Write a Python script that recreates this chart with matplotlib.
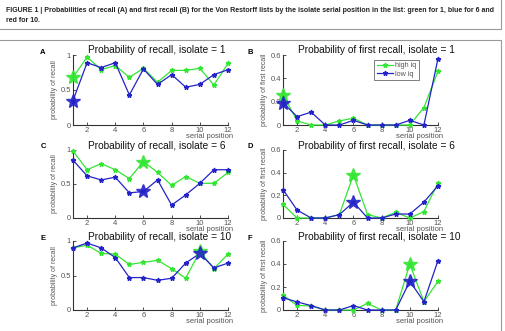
import numpy as np
import matplotlib
matplotlib.use("Agg")
import matplotlib.pyplot as plt
from matplotlib.patches import Rectangle

plt.rcParams['font.family'] = ['Liberation Sans', 'DejaVu Sans']

# ── data ──────────────────────────────────────────────────────────────────────
serial = np.arange(1, 13)

recall_hi_1 = [0.68, 0.97, 0.79, 0.85, 0.68, 0.81, 0.61, 0.78, 0.78, 0.81, 0.57, 0.88]
recall_lo_1 = [0.35, 0.89, 0.82, 0.89, 0.43, 0.80, 0.58, 0.72, 0.54, 0.58, 0.72, 0.79]
first_hi_1 = [0.26, 0.035, 0.0, 0.0, 0.035, 0.058, 0.0, 0.0, 0.0, 0.0, 0.15, 0.46]
first_lo_1 = [0.19, 0.072, 0.11, 0.0, 0.0, 0.04, 0.0, 0.0, 0.0, 0.04, 0.0, 0.57]

recall_hi_6 = [0.985, 0.71, 0.80, 0.71, 0.58, 0.83, 0.67, 0.48, 0.61, 0.51, 0.51, 0.67]
recall_lo_6 = [0.85, 0.62, 0.56, 0.60, 0.37, 0.39, 0.56, 0.19, 0.34, 0.51, 0.71, 0.71]
first_hi_6 = [0.12, 0.0, 0.0, 0.0, 0.03, 0.38, 0.03, 0.0, 0.05, 0.0, 0.056, 0.31]
first_lo_6 = [0.25, 0.07, 0.0, 0.0, 0.03, 0.14, 0.0, 0.0, 0.035, 0.035, 0.14, 0.285]

recall_hi_10 = [0.90, 0.94, 0.82, 0.81, 0.66, 0.69, 0.72, 0.60, 0.46, 0.85, 0.60, 0.81]
recall_lo_10 = [0.90, 0.97, 0.90, 0.76, 0.47, 0.47, 0.43, 0.46, 0.68, 0.82, 0.61, 0.68]
first_hi_10 = [0.128, 0.04, 0.035, 0.0, 0.0, 0.0, 0.058, 0.0, 0.0, 0.40, 0.072, 0.25]
first_lo_10 = [0.107, 0.07, 0.038, 0.0, 0.0, 0.038, 0.0, 0.0, 0.0, 0.25, 0.072, 0.43]

isolates = [1, 6, 10]
panel_letters = [("A", "B"), ("C", "D"), ("E", "F")]
recall_sets = [(recall_hi_1, recall_lo_1), (recall_hi_6, recall_lo_6), (recall_hi_10, recall_lo_10)]
first_sets = [(first_hi_1, first_lo_1), (first_hi_6, first_lo_6), (first_hi_10, first_lo_10)]

caption = ("FIGURE 1 | Probabilities of recall (A) and first recall (B) for the Von Restorff lists by the "
           "isolate serial position in the list: green for 1, blue for 6 and\nred for 10.")

GREEN = "#33e633"
BLUE = "#2323c8"
GRAY = "#555555"

# ── figure ────────────────────────────────────────────────────────────────────
W, H = 505, 331
fig = plt.figure(figsize=(W / 100, H / 100), dpi=100)

# caption and frames
fig.patches.append(Rectangle((-0.01, 1 - 29 / H), 1.0 + 0.01 - 4 / W, 0.02 + 29 / H,
                             transform=fig.transFigure, fill=False, ec="#999999", lw=0.8))
fig.patches.append(Rectangle((-0.01, -0.05), 1.0 + 0.01 - 4 / W, 0.05 + 1 - 40 / H,
                             transform=fig.transFigure, fill=False, ec="#999999", lw=0.8))
fig.text(6 / W, 1 - 6.5 / H, caption, fontsize=5.0, fontweight="bold", va="top", ha="left",
         linespacing=1.6, color="#222222")


def px_axes(left, top, right, bottom):
    return fig.add_axes([left / W, 1 - bottom / H, (right - left) / W, (bottom - top) / H])


def style(ax, ymax, yticks, yticklabels, ylabel):
    ax.set_xlim(1, 12)
    ax.set_ylim(0, ymax)
    ax.set_xticks([2, 4, 6, 8, 10, 12])
    ax.set_yticks(yticks)
    ax.set_yticklabels(yticklabels)
    for s in ("top", "right"):
        ax.spines[s].set_visible(False)
    for s in ("left", "bottom"):
        ax.spines[s].set_color("#333333")
        ax.spines[s].set_linewidth(0.8)
    ax.tick_params(direction="in", length=2, width=0.6, labelsize=5.5,
                   labelcolor=GRAY, colors="#333333", pad=1.5)
    ax.set_ylabel(ylabel, fontsize=5, color=GRAY, labelpad=2)
    ax.text(0.88, -0.165, "serial position", transform=ax.transAxes, fontsize=5.5,
            color=GRAY, ha="center", va="center")
    ax.patch.set_alpha(0)


def draw_series(ax, y, color, iso, label):
    ax.plot(serial, y, "-", color=color, lw=0.9, marker="*", ms=3.5, label=label,
            clip_on=False, zorder=3)
    i = iso - 1
    ax.plot(serial[i], y[i], "*", color=color, ms=10, alpha=0.85,
            clip_on=False, zorder=4)


rows_px = [(55, 125), (150, 218), (241, 310)]
for r, iso in enumerate(isolates):
    top, bottom = rows_px[r]
    axl = px_axes(73, top, 228, bottom)
    axr = px_axes(283, top, 438, bottom)

    hi, lo = recall_sets[r]
    draw_series(axl, hi, GREEN, iso, "high iq")
    draw_series(axl, lo, BLUE, iso, "low iq")
    style(axl, 1, [0, 0.5, 1], ["0", "0.5", "1"], "probability of recall")
    axl.text(0.10, 1.065, f"Probability of recall, isolate = {iso}", transform=axl.transAxes,
             fontsize=7.3, ha="left", va="center", color="#111111")

    hi, lo = first_sets[r]
    draw_series(axr, hi, GREEN, iso, "high iq")
    draw_series(axr, lo, BLUE, iso, "low iq")
    style(axr, 0.6, [0, 0.2, 0.4, 0.6], ["0", "0.2", "0.4", "0.6"], "probability of first recall")
    axr.text(0.10, 1.065, f"Probability of first recall, isolate = {iso}", transform=axr.transAxes,
             fontsize=7.3, ha="left", va="center", color="#111111")

    la, lb = panel_letters[r]
    fig.text(43 / W, 1 - (top - 3) / H, la, fontsize=5.5, fontweight="bold", ha="center", va="center")
    fig.text(250 / W, 1 - (top - 3) / H, lb, fontsize=5.5, fontweight="bold", ha="center", va="center")

    if r == 0:
        leg = axr.legend(loc="upper left", bbox_to_anchor=(0.59, 0.93), fontsize=5.2,
                         frameon=True, fancybox=False, handlelength=2.2, borderpad=0.3,
                         labelspacing=0.2, handletextpad=0.4, borderaxespad=0)
        leg.get_frame().set_edgecolor("#444444")
        leg.get_frame().set_linewidth(0.6)
        for t in leg.get_texts():
            t.set_color(GRAY)

fig.savefig("out.png", dpi=100)
